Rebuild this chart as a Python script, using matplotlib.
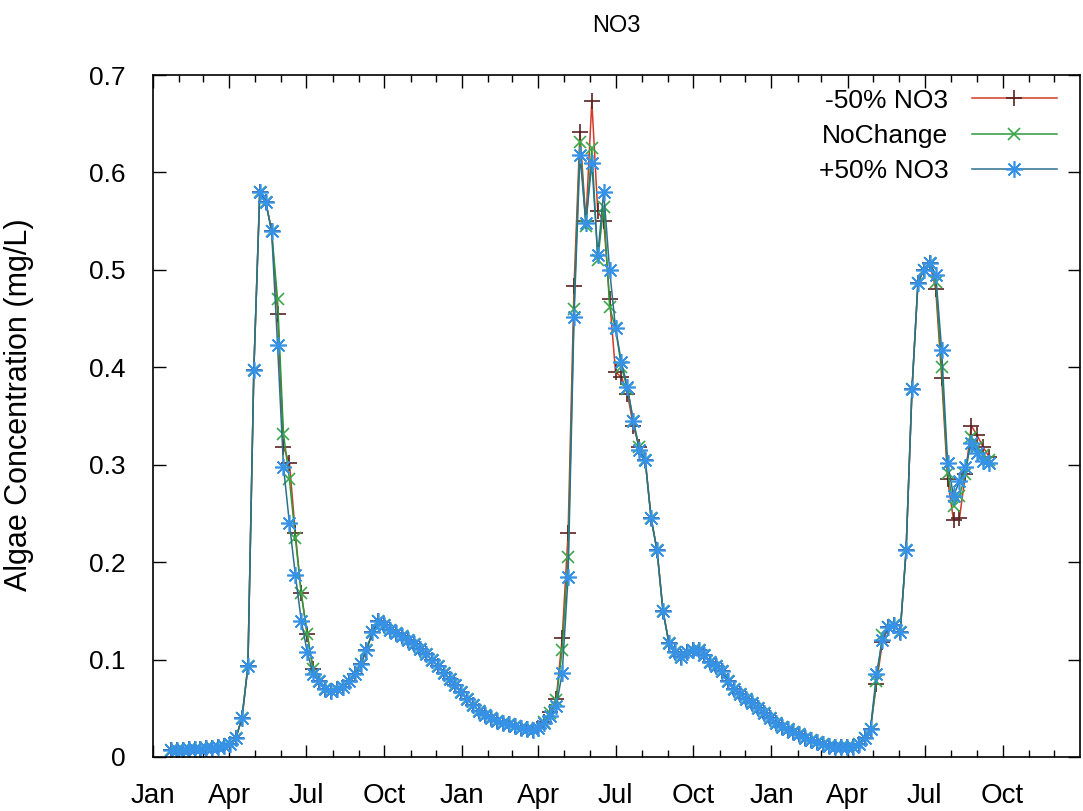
import pandas as pd
import matplotlib
matplotlib.use('Agg')
import matplotlib.pyplot as plt
import matplotlib.dates as mdates
from matplotlib.ticker import MultipleLocator, FormatStrFormatter

# weekly model output, starting late January of the first year
start_date = '2005-01-22'

minus50 = [
    0.007, 0.007, 0.007, 0.008, 0.008, 0.008, 0.009, 0.009, 0.010, 0.011,
    0.013, 0.020, 0.040, 0.093, 0.397, 0.580, 0.570, 0.540, 0.455, 0.318,
    0.302, 0.230, 0.168, 0.126, 0.090, 0.078, 0.070, 0.068, 0.070, 0.072,
    0.078, 0.085, 0.095, 0.110, 0.128, 0.140, 0.135, 0.130, 0.127, 0.124,
    0.120, 0.116, 0.111, 0.106, 0.100, 0.093, 0.086, 0.080, 0.074, 0.067,
    0.060, 0.053, 0.047, 0.043, 0.040, 0.037, 0.035, 0.034, 0.032, 0.030,
    0.029, 0.028, 0.030, 0.036, 0.046, 0.060, 0.122, 0.230, 0.483, 0.641,
    0.550, 0.673, 0.560, 0.550, 0.470, 0.395, 0.390, 0.373, 0.340, 0.318,
    0.305, 0.245, 0.212, 0.150, 0.117, 0.108, 0.103, 0.108, 0.110, 0.110,
    0.105, 0.097, 0.093, 0.088, 0.078, 0.070, 0.065, 0.060, 0.055, 0.050,
    0.045, 0.040, 0.035, 0.031, 0.029, 0.026, 0.024, 0.020, 0.017, 0.015,
    0.013, 0.011, 0.010, 0.010, 0.010, 0.010, 0.013, 0.020, 0.029, 0.075,
    0.118, 0.133, 0.135, 0.128, 0.212, 0.378, 0.487, 0.500, 0.507, 0.480,
    0.389, 0.285, 0.243, 0.245, 0.290, 0.340, 0.330, 0.318, 0.308,
]

nochange = [
    0.007, 0.007, 0.007, 0.008, 0.008, 0.008, 0.009, 0.009, 0.010, 0.011,
    0.013, 0.020, 0.040, 0.093, 0.397, 0.580, 0.570, 0.540, 0.470, 0.332,
    0.285, 0.225, 0.168, 0.126, 0.090, 0.078, 0.070, 0.068, 0.070, 0.072,
    0.078, 0.085, 0.095, 0.110, 0.128, 0.140, 0.135, 0.130, 0.127, 0.124,
    0.120, 0.116, 0.111, 0.106, 0.100, 0.093, 0.086, 0.080, 0.074, 0.067,
    0.060, 0.053, 0.047, 0.043, 0.040, 0.037, 0.035, 0.034, 0.032, 0.030,
    0.029, 0.028, 0.030, 0.036, 0.045, 0.058, 0.110, 0.205, 0.460, 0.631,
    0.545, 0.625, 0.510, 0.565, 0.462, 0.440, 0.400, 0.378, 0.345, 0.318,
    0.305, 0.245, 0.212, 0.150, 0.117, 0.108, 0.103, 0.108, 0.110, 0.110,
    0.105, 0.097, 0.093, 0.088, 0.078, 0.070, 0.065, 0.060, 0.055, 0.050,
    0.045, 0.040, 0.035, 0.031, 0.029, 0.026, 0.024, 0.020, 0.017, 0.015,
    0.013, 0.011, 0.010, 0.010, 0.010, 0.010, 0.013, 0.020, 0.029, 0.078,
    0.125, 0.133, 0.135, 0.128, 0.212, 0.378, 0.487, 0.500, 0.507, 0.488,
    0.400, 0.292, 0.258, 0.268, 0.290, 0.328, 0.318, 0.310, 0.305,
]

plus50 = [
    0.007, 0.007, 0.007, 0.008, 0.008, 0.008, 0.009, 0.009, 0.010, 0.011,
    0.013, 0.020, 0.040, 0.093, 0.397, 0.580, 0.570, 0.540, 0.423, 0.298,
    0.240, 0.187, 0.140, 0.108, 0.085, 0.078, 0.070, 0.068, 0.070, 0.072,
    0.078, 0.085, 0.095, 0.110, 0.128, 0.140, 0.135, 0.130, 0.127, 0.124,
    0.120, 0.116, 0.111, 0.106, 0.100, 0.093, 0.086, 0.080, 0.074, 0.067,
    0.060, 0.053, 0.047, 0.043, 0.040, 0.037, 0.035, 0.034, 0.032, 0.030,
    0.029, 0.028, 0.030, 0.035, 0.042, 0.052, 0.086, 0.185, 0.452, 0.618,
    0.548, 0.610, 0.515, 0.580, 0.500, 0.440, 0.405, 0.380, 0.345, 0.315,
    0.305, 0.245, 0.212, 0.150, 0.117, 0.108, 0.103, 0.108, 0.110, 0.110,
    0.105, 0.097, 0.093, 0.088, 0.078, 0.070, 0.065, 0.060, 0.055, 0.050,
    0.045, 0.040, 0.035, 0.031, 0.029, 0.026, 0.024, 0.020, 0.017, 0.015,
    0.013, 0.011, 0.010, 0.010, 0.010, 0.010, 0.013, 0.020, 0.029, 0.085,
    0.120, 0.133, 0.135, 0.128, 0.212, 0.378, 0.487, 0.500, 0.507, 0.495,
    0.418, 0.302, 0.268, 0.283, 0.298, 0.322, 0.312, 0.304, 0.302,
]

series_labels = ['-50% NO3', 'NoChange', '+50% NO3']

dates = pd.date_range(start_date, periods=len(nochange), freq='7D')

plt.rcParams['font.family'] = ['Liberation Sans', 'DejaVu Sans']

fig = plt.figure(figsize=(10.83, 8.11), dpi=100)
ax = fig.add_axes([0.1413, 0.0666, 0.8557, 0.8409])

# gnuplot style: red +, green x, blue asterisk
ax.plot(dates, minus50, color='#d23a2a', lw=1.1, marker='+', ms=11, mew=1.2,
        mec='#5a2323', label=series_labels[0])
ax.plot(dates, nochange, color='#2b9a3a', lw=1.1, marker='x', ms=8, mew=1.2,
        mec='#3aa84a', label=series_labels[1])
ax.plot(dates, plus50, color='#2d6f8f', lw=1.1, marker=(8, 2, 0), ms=12, mew=1.2,
        mec='#3592e6', label=series_labels[2])

ax.set_xlim(pd.Timestamp('2005-01-01'), pd.Timestamp('2007-12-31'))
ax.set_ylim(0, 0.7)

ax.xaxis.set_major_locator(mdates.MonthLocator(bymonth=[1, 4, 7, 10]))
ax.xaxis.set_minor_locator(mdates.MonthLocator())
ax.xaxis.set_major_formatter(mdates.DateFormatter('%b'))
ax.yaxis.set_major_locator(MultipleLocator(0.1))
ax.yaxis.set_major_formatter(FormatStrFormatter('%g'))

ax.tick_params(which='both', direction='in', top=True, right=True, labelsize=19)
ax.tick_params(axis='x', pad=19, labelsize=20)
ax.tick_params(axis='y', pad=20)
ax.tick_params(which='major', length=9, width=1)
ax.tick_params(which='minor', length=5, width=1)
for s in ax.spines.values():
    s.set_linewidth(1.2)

ax.set_ylabel('Algae Concentration (mg/L)', fontsize=22)
ax.yaxis.set_label_coords(-0.128, 0.516)
ax.set_title('NO3', fontsize=17, pad=31)

leg = ax.legend(loc='upper right', bbox_to_anchor=(0.975, 0.98), frameon=False,
                markerfirst=False, fontsize=19, handlelength=3.2,
                labelspacing=0.42, handletextpad=0.9,
                borderaxespad=0, borderpad=0)

fig.savefig('out.png', dpi=100)
